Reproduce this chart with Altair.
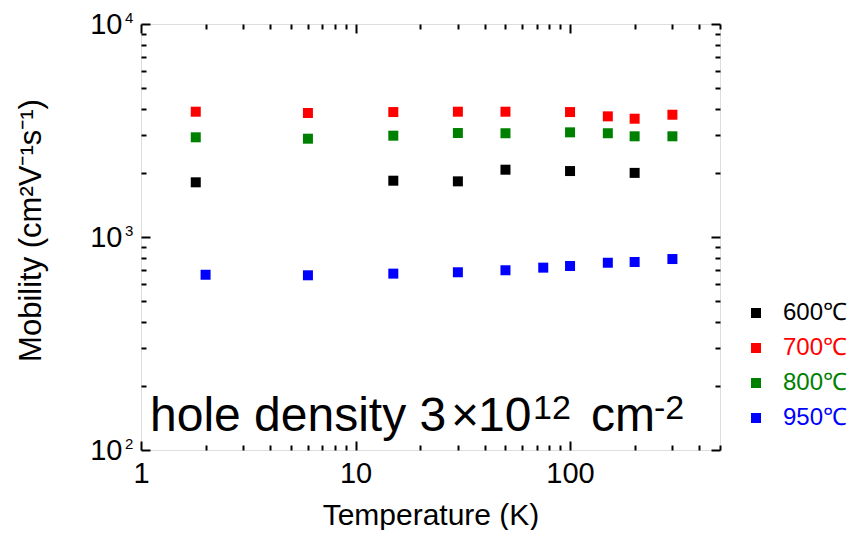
import altair as alt
import pandas as pd

FONT = "Liberation Sans"

series = ["600℃", "700℃", "800℃", "950℃"]
colors = ["#000000", "#ff0000", "#008000", "#0000ff"]

t_600 = [1.8, 15, 30, 50, 100, 200]
mu_600 = [1806, 1838, 1825, 2070, 2040, 2000]
t_700 = [1.8, 6, 15, 30, 50, 100, 150, 200, 300]
mu_700 = [3875, 3820, 3860, 3875, 3875, 3860, 3685, 3592, 3750]
t_800 = [1.8, 6, 15, 30, 50, 100, 150, 200, 300]
mu_800 = [2938, 2894, 2990, 3077, 3070, 3100, 3070, 2970, 2970]
t_950 = [2, 6, 15, 30, 50, 75, 100, 150, 200, 300]
mu_950 = [665, 661, 673, 683, 698, 718, 731, 757, 763, 788]

x_domain = [1, 500]
y_domain = [100, 10000]
x_major = [1, 10, 100]
x_ticks = [1, 2, 3, 4, 5, 6, 7, 8, 9, 10, 20, 30, 40, 50, 60, 70, 80, 90,
           100, 200, 300, 400, 500]
y_major = [100, 1000, 10000]
y_exponents = ["2", "3", "4"]
y_ticks = [100, 200, 300, 400, 500, 600, 700, 800, 900,
           1000, 2000, 3000, 4000, 5000, 6000, 7000, 8000, 9000, 10000]

rows = []
for name, ts, mus in zip(series, [t_600, t_700, t_800, t_950],
                         [mu_600, mu_700, mu_800, mu_950]):
    for t, m in zip(ts, mus):
        rows.append({"series": name, "T": t, "mu": m})
df = pd.DataFrame(rows)

W, H = 579, 426
xs = alt.Scale(type="log", domain=x_domain, nice=False)
ys = alt.Scale(type="log", domain=y_domain, nice=False)


def tick_axis(orient, values, majors, offset):
    return alt.Axis(
        orient=orient, values=values, offset=offset, labels=False, title=None,
        domain=False, grid=False, ticks=True, tickColor="black", tickWidth=2,
        tickSize={"condition": {"test": f"indexof({majors}, datum.value) >= 0",
                                "value": 9}, "value": 5},
    )


points = alt.Chart(df).mark_point(
    shape="square", filled=True, size=100, opacity=1, strokeWidth=0
).encode(
    x=alt.X("T:Q", scale=xs, axis=alt.Axis(
        orient="bottom", values=x_major, format="d", ticks=False, tickSize=0,
        domain=False, grid=False, labelFont=FONT, labelFontSize=29,
        labelColor="black", labelPadding=9, labelFlush=False, labelOverlap=False,
        title="Temperature (K)", titleFont=FONT, titleFontSize=30,
        titleFontWeight="normal", titleColor="black", titleBaseline="alphabetic",
        titleX=W / 2, titleY=74)),
    y=alt.Y("mu:Q", scale=ys, axis=alt.Axis(
        orient="left", values=y_major, labelExpr="'10'", ticks=False, tickSize=0,
        domain=False, grid=False, labelFont=FONT, labelFontSize=29,
        labelColor="black", labelPadding=19, labelBaseline="middle",
        labelFlush=False, labelOverlap=False,
        title="Mobility (cm²V⁻¹s⁻¹)", titleFont=FONT, titleFontSize=31,
        titleFontWeight="normal", titleColor="black", titleBaseline="alphabetic",
        titleAlign="center", titleX=-101, titleY=206)),
    color=alt.Color("series:N", scale=alt.Scale(domain=series, range=colors),
                    legend=alt.Legend(
                        orient="none", legendX=603, legendY=277, title=None,
                        symbolType="square", symbolSize=100, symbolStrokeWidth=0,
                        symbolOpacity=1, labelFont=FONT, labelFontSize=24,
                        labelColor={"expr": "scale('color', datum.value)"},
                        rowPadding=11, labelOffset=15, padding=0)),
)

ticks_a = alt.Chart(df).mark_point(opacity=0).encode(
    x=alt.X("T:Q", scale=xs, axis=tick_axis("top", x_ticks, x_major, -H)),
    y=alt.Y("mu:Q", scale=ys, axis=tick_axis("right", y_ticks, y_major, -W)),
)
ticks_b = alt.Chart(df).mark_point(opacity=0).encode(
    x=alt.X("T:Q", scale=xs, axis=tick_axis("bottom", x_ticks, x_major, -H)),
    y=alt.Y("mu:Q", scale=ys, axis=tick_axis("left", y_ticks, y_major, -W)),
)

sup_df = pd.DataFrame({"mu": y_major, "exp": y_exponents})
sups = alt.Chart(sup_df).mark_text(
    font=FONT, fontSize=15, align="left", baseline="alphabetic", dy=-1,
    color="black"
).encode(
    x=alt.value(-16),
    y=alt.Y("mu:Q", scale=ys, axis=None),
    text="exp:N",
)

one = pd.DataFrame({"k": [0]})


def piece(txt, size, px, py):
    return alt.Chart(one).mark_text(
        text=txt, font=FONT, fontSize=size, align="left",
        baseline="alphabetic", color="black"
    ).encode(x=alt.value(px), y=alt.value(py))


annotation = [
    piece("hole density 3", 48, 9, 407),
    piece("×", 48, 310, 407),
    piece("10", 48, 337, 407),
    piece("12", 34, 392, 395),
    piece("cm", 48, 450, 407),
    piece("-2", 34, 513, 395),
]

chart = alt.layer(points, ticks_a, ticks_b, sups, *annotation).resolve_scale(
    x="shared", y="shared"
).resolve_axis(
    x="independent", y="independent"
).properties(
    width=W, height=H,
    padding={"left": 133, "top": 16, "right": 129, "bottom": 80},
    autosize=alt.AutoSizeParams(type="none"),
).configure_view(
    stroke="black", strokeWidth=2
).configure(background="white")

chart.save("out.html", embed_options={"renderer": "svg", "actions": False})
